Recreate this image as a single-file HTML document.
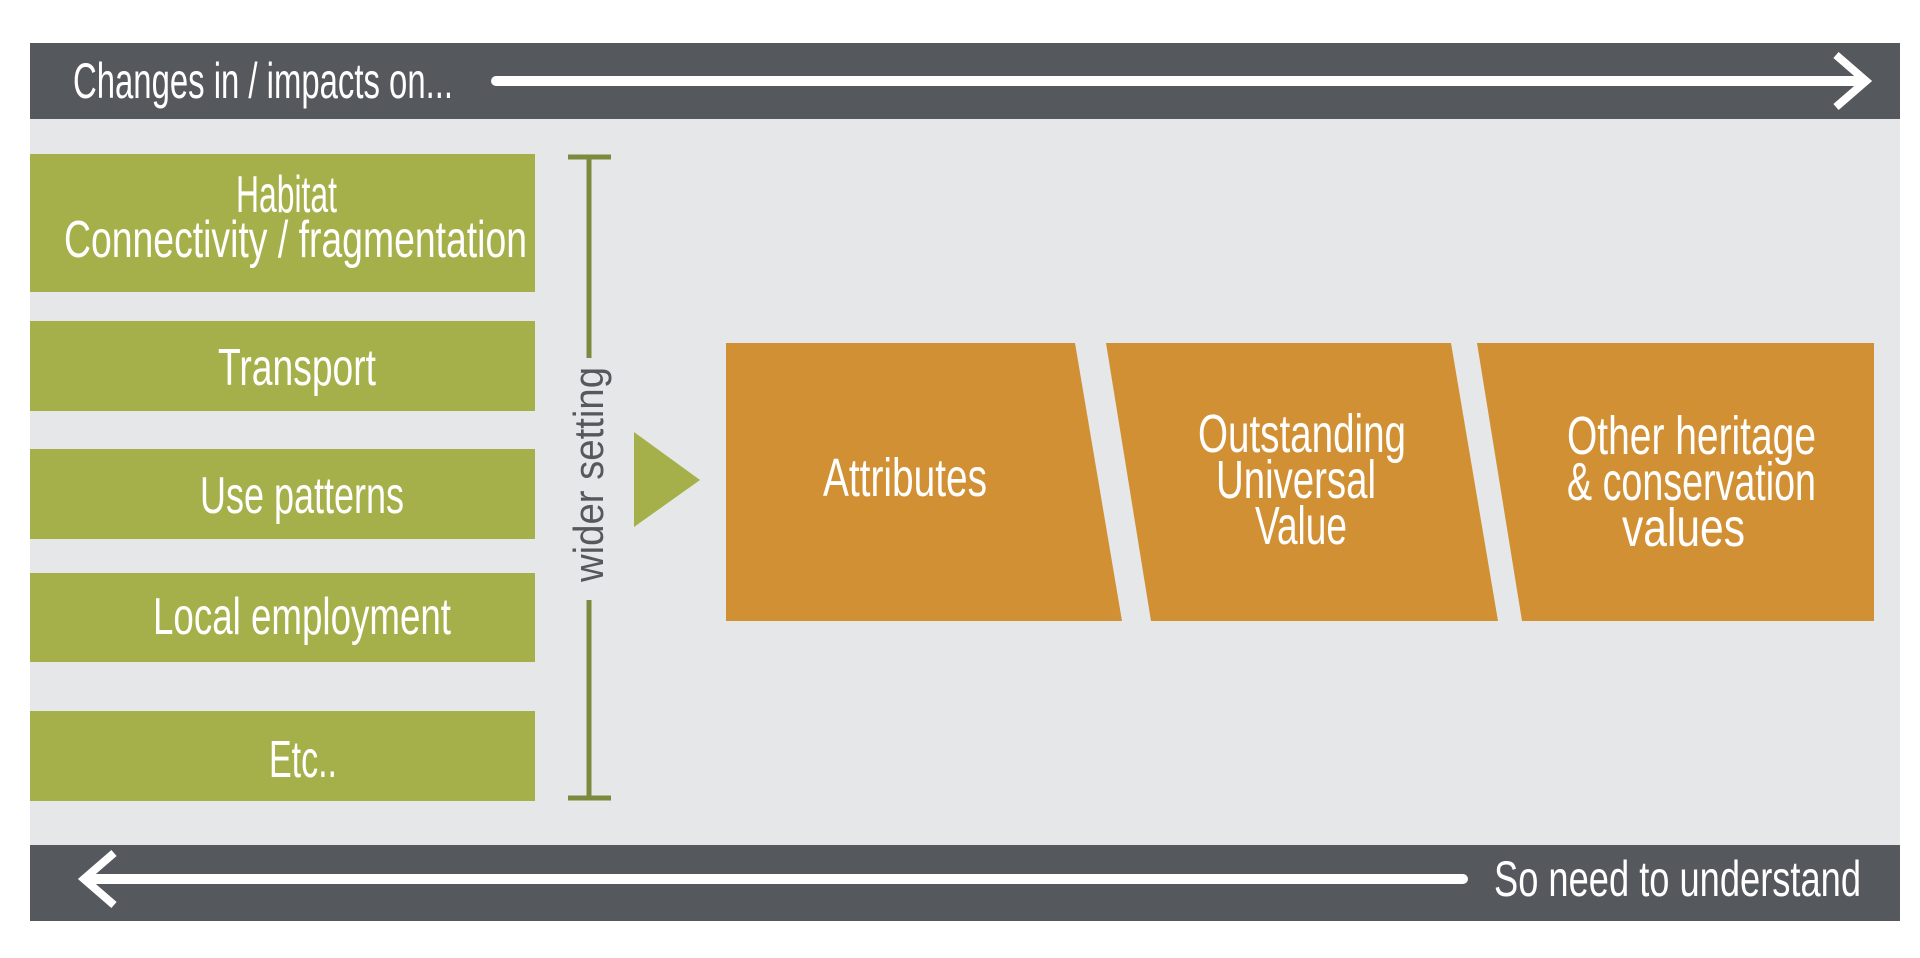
<!DOCTYPE html>
<html><head><meta charset="utf-8"><style>
html,body{margin:0;padding:0;background:#fff;}
svg{display:block;}
text{font-family:"Liberation Sans Narrow","Liberation Sans",sans-serif;fill:#fff;}
</style></head><body>
<svg width="1920" height="958" viewBox="0 0 1920 958" xmlns="http://www.w3.org/2000/svg">
<rect x="0" y="0" width="1920" height="958" fill="#fff"/>
<rect x="30" y="119" width="1870" height="726" fill="#e6e7e8"/>
<rect x="30" y="43" width="1870" height="76" fill="#55585d"/>
<rect x="30" y="845" width="1870" height="76" fill="#55585d"/>
<text x="73" y="98" font-size="50" textLength="380" lengthAdjust="spacingAndGlyphs">Changes in / impacts on...</text>
<line x1="496" y1="81" x2="1862" y2="81" stroke="#fff" stroke-width="10" stroke-linecap="round"/>
<polyline points="1836,55 1866,81 1836,107" fill="none" stroke="#fff" stroke-width="8"/>
<text x="1494" y="896" font-size="50" textLength="367" lengthAdjust="spacingAndGlyphs">So need to understand</text>
<line x1="90" y1="879" x2="1463" y2="879" stroke="#fff" stroke-width="10" stroke-linecap="round"/>
<polyline points="114,853 84,879 114,905" fill="none" stroke="#fff" stroke-width="8"/>
<g fill="#a5b04a">
<rect x="30" y="154" width="505" height="138"/>
<rect x="30" y="321" width="505" height="90"/>
<rect x="30" y="449" width="505" height="90"/>
<rect x="30" y="573" width="505" height="89"/>
<rect x="30" y="711" width="505" height="90"/>
</g>
<text x="236" y="212" font-size="52" textLength="101" lengthAdjust="spacingAndGlyphs">Habitat</text>
<text x="64" y="257" font-size="52" textLength="463" lengthAdjust="spacingAndGlyphs">Connectivity / fragmentation</text>
<text x="218" y="385" font-size="52" textLength="158" lengthAdjust="spacingAndGlyphs">Transport</text>
<text x="200" y="513" font-size="52" textLength="204" lengthAdjust="spacingAndGlyphs">Use patterns</text>
<text x="153" y="634" font-size="52" textLength="298" lengthAdjust="spacingAndGlyphs">Local employment</text>
<text x="269" y="777" font-size="52" textLength="68" lengthAdjust="spacingAndGlyphs">Etc..</text>
<g stroke="#7d8a3e" stroke-width="5" fill="none">
<line x1="568" y1="157" x2="611" y2="157"/>
<line x1="589" y1="157" x2="589" y2="358"/>
<line x1="589" y1="600" x2="589" y2="798"/>
<line x1="568" y1="798" x2="611" y2="798"/>
</g>
<text transform="translate(603,582) rotate(-90)" x="0" y="0" font-size="42" style="fill:#55585d" textLength="215" lengthAdjust="spacingAndGlyphs">wider setting</text>
<polygon points="634,432 700,480 634,527" fill="#a5b04a"/>
<g fill="#d29034">
<polygon points="726,343 1075,343 1122,621 726,621"/>
<polygon points="1106,343 1451,343 1498,621 1151,621"/>
<polygon points="1477,343 1874,343 1874,621 1522,621"/>
</g>
<text x="823" y="496" font-size="54" textLength="164" lengthAdjust="spacingAndGlyphs">Attributes</text>
<text x="1198" y="452" font-size="54" textLength="208" lengthAdjust="spacingAndGlyphs">Outstanding</text>
<text x="1216" y="498" font-size="54" textLength="160" lengthAdjust="spacingAndGlyphs">Universal</text>
<text x="1255" y="544" font-size="54" textLength="92" lengthAdjust="spacingAndGlyphs">Value</text>
<text x="1567" y="454" font-size="54" textLength="249" lengthAdjust="spacingAndGlyphs">Other heritage</text>
<text x="1567" y="500" font-size="54" textLength="249" lengthAdjust="spacingAndGlyphs">&amp; conservation</text>
<text x="1622" y="546" font-size="54" textLength="123" lengthAdjust="spacingAndGlyphs">values</text>
</svg>
</body></html>
